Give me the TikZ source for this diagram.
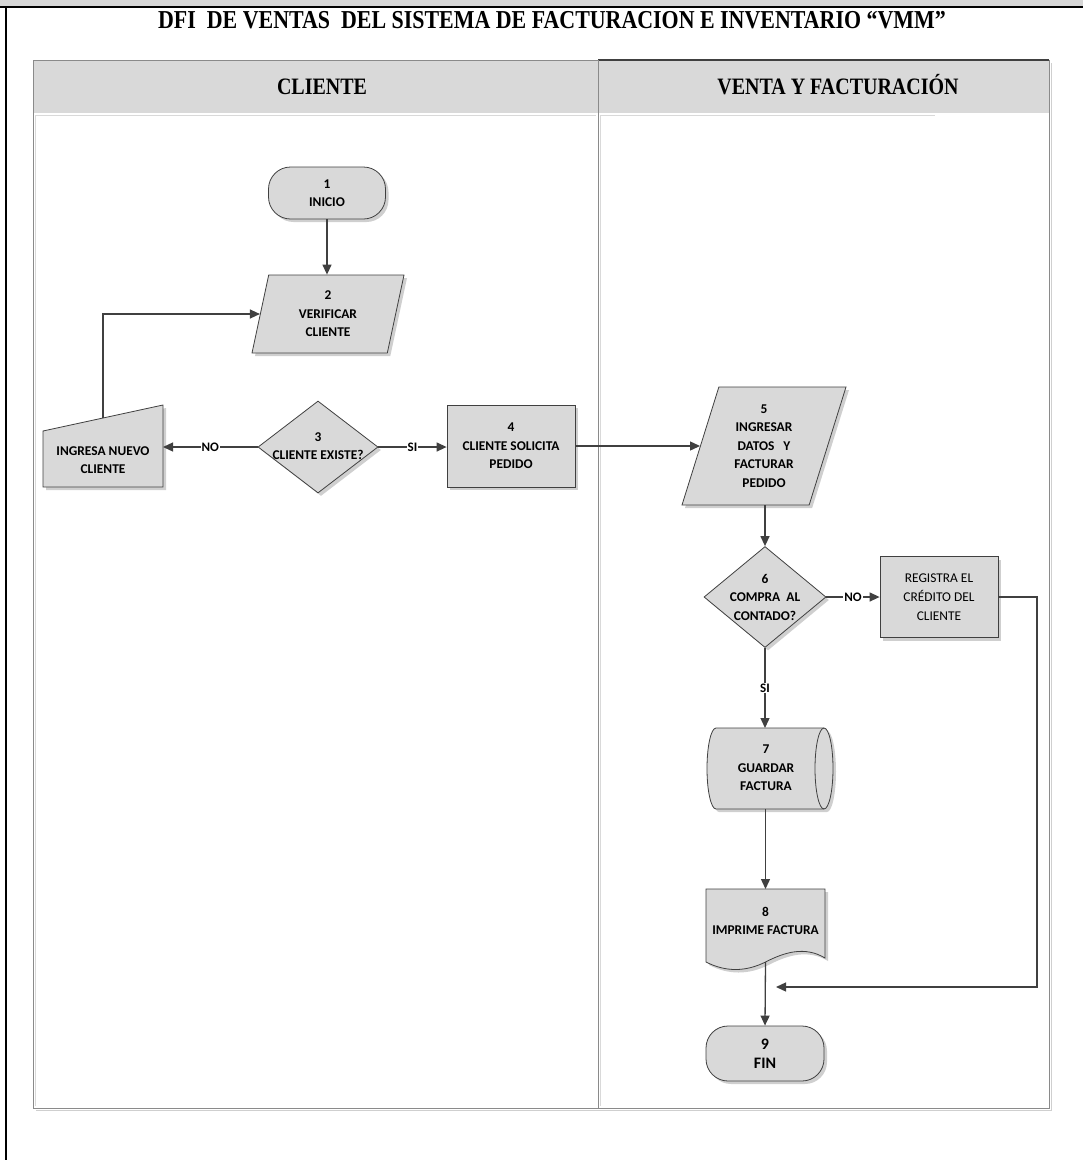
\documentclass[tikz,border=0pt]{standalone}
\usepackage{fontspec}
\setmainfont{Carlito}
\newfontfamily\headfont[FakeStretch=0.85]{Liberation Serif}
\usetikzlibrary{shapes.geometric,shapes.misc,arrows.meta,shadows,calc}

\definecolor{shapefill}{HTML}{D9D9D9}
\definecolor{edge}{HTML}{404040}
\definecolor{shadowgray}{HTML}{CFCFCF}
\definecolor{poolline}{HTML}{8A8A8A}
\definecolor{bandgray}{HTML}{D6D6D6}

\begin{document}
\begin{tikzpicture}[x=1pt,y=-1pt,
  font=\fontsize{13.4}{18.5}\selectfont\bfseries,
  shade3/.style={drop shadow={shadow xshift=3pt,shadow yshift=-3pt,fill=shadowgray,opacity=1}},
  base/.style={draw=edge,line width=0.8pt,fill=shapefill,align=center,inner sep=2pt,shade3},
  terminal/.style={base,rounded corners=22pt},
  process/.style={base,rectangle},
  decision/.style={base,diamond,inner sep=0pt},
  io/.style={base,trapezium,trapezium stretches body,inner sep=0pt},
  frame/.style={inner sep=0pt,outer sep=0pt},
  pathshadow/.style={preaction={fill=shadowgray,transform canvas={xshift=3pt,yshift=-3pt}}},
  outline/.style={pathshadow,fill=shapefill,draw=edge,line width=0.8pt},
  txt/.style={align=center,inner sep=0pt},
  flow/.style={draw=edge,line width=1.3pt,-{Triangle[length=10pt,width=9pt]}},
  tag/.style={fill=white,inner sep=1pt,font=\fontsize{13}{14}\selectfont\bfseries},
  lanehead/.style={font=\headfont\fontsize{23.5}{26}\selectfont\bfseries,anchor=base},
]
\useasboundingbox (0,0) rectangle (1083,1160);

% outer sheet frame
\fill[bandgray] (0,0) rectangle (1083,7);
\draw[black,line width=1.3pt] (0,7) -- (1083,7);
\draw[black,line width=1.3pt] (6,7) -- (6,1160);

% title
\node[font=\headfont\fontsize{25.8}{28}\selectfont\bfseries,anchor=base] (title) at (552,28)
  {DFI\ \ DE VENTAS\ \ DEL SISTEMA DE FACTURACION E INVENTARIO “VMM”};

% pool with two lanes
\draw[shadowgray,line width=1.5pt] (36,1110.5) -- (1051.5,1110.5) -- (1051.5,63);
\fill[shapefill] (33,60) rectangle (1049,113);
\draw[poolline,line width=1pt] (33,60) rectangle (1049,1108);
\draw[edge,line width=1.6pt] (598,60) -- (1049,60);
\draw[poolline,line width=0.9pt] (598,60) -- (598,1108);
\draw[gray!30,line width=0.8pt] (35.5,1106) -- (35.5,115.5) -- (596,115.5);
\draw[gray!30,line width=0.8pt] (600.5,1106) -- (600.5,115.5) -- (935,115.5);
\node[lanehead] (lane1) at (322,94) {CLIENTE};
\node[lanehead] (lane2) at (838,94) {VENTA Y FACTURACIÓN};

% lane: cliente
\node[terminal,minimum width=117pt,minimum height=52pt] (n1) at (327,193) {1\\INICIO};
\node[io,trapezium left angle=70,trapezium right angle=110,minimum width=152pt,minimum height=78pt]
  (n2) at (328,314) {2\\VERIFICAR\\CLIENTE};
\node[decision,minimum width=120pt,minimum height=92pt] (n3) at (318,447) {};
\node[txt] (n3-txt) at (318,446) {3\\CLIENTE EXISTE?};
\node[process,minimum width=128pt,minimum height=82pt] (n4) at (511,446) {4\\CLIENTE SOLICITA\\PEDIDO};

% manual input: ingresa nuevo cliente
\node[frame,minimum width=120pt,minimum height=82pt] (nuevo) at (103,446) {};
\path[outline]
  (nuevo.south west) -- (nuevo.south east) -- (nuevo.north east)
  -- ($(nuevo.north west)+(0,26)$) -- cycle;
\node[txt] (nuevo-txt) at (103,460) {INGRESA NUEVO\\CLIENTE};
\coordinate (nuevo-in) at ($(nuevo.north)+(0,13)$);

% lane: venta y facturacion
\node[io,trapezium left angle=66,trapezium right angle=114,minimum width=164pt,minimum height=118pt]
  (n5) at (764,446) {5\\INGRESAR\\DATOS\ \ \ Y\\FACTURAR\\PEDIDO};
\node[decision,minimum width=122pt,minimum height=101pt] (n6) at (765,597) {};
\node[txt] (n6-txt) at (765,597) {6\\COMPRA\ \ AL\\CONTADO?};
\node[process,minimum width=118pt,minimum height=81pt,font=\fontsize{13.4}{19}\selectfont\mdseries]
  (reg) at (939,597) {REGISTRA EL\\CRÉDITO DEL\\CLIENTE};

% stored data: guardar factura (horizontal cylinder)
\node[frame,minimum width=126pt,minimum height=81pt] (n7) at (770,768.5) {};
\path[outline]
  ($(n7.north west)+(9,0)$) -- ($(n7.north east)+(-9,0)$)
  arc[start angle=90,end angle=-90,x radius=9pt,y radius=40.5pt]
  -- ($(n7.south west)+(9,0)$)
  arc[start angle=270,end angle=90,x radius=9pt,y radius=40.5pt] -- cycle;
\draw[edge,line width=0.8pt] ($(n7.north east)+(-9,0)$)
  arc[start angle=90,end angle=270,x radius=9pt,y radius=40.5pt];
\node[txt] (n7-txt) at (766,768) {7\\GUARDAR\\FACTURA};

% document: imprime factura
\node[frame,minimum width=119pt,minimum height=73pt] (n8) at (765.5,925.5) {};
\path[outline]
  (n8.north west) -- (n8.north east) -- ($(n8.north east)+(0,69)$)
  .. controls ($(n8.north east)+(-20,57)$) and ($(n8.north east)+(-40,63)$) .. (n8.south)
  .. controls ($(n8.south)+(-20,10)$) and ($(n8.south)+(-40,10)$) .. (n8.south west) -- cycle;
\node[txt] (n8-txt) at (765.5,921) {8\\IMPRIME FACTURA};

\node[terminal,minimum width=118pt,minimum height=55pt,font=\fontsize{16}{19}\selectfont\bfseries]
  (n9) at (765,1053.5) {9\\FIN};
\coordinate (turn) at (1037,597);
\coordinate (merge) at (776,987);

% connectors
\draw[flow] (n1.south) -- (n1.south |- n2.top side);
\draw[flow] (nuevo-in) |- (n2.left side);
\draw[flow] (n3.west) -- (n3.west -| nuevo.east) node[tag,midway] (no1) {NO};
\draw[flow] (n3.east) -- (n3.east -| n4.west) node[tag,midway] (si1) {SI};
\draw[flow] (n4.east) -- (n5.left side);
\draw[flow] (n6.north |- n5.bottom side) -- (n6.north);
\draw[flow] (n6.east) -- (reg.west) node[tag,midway] (no2) {NO};
\draw[flow] (n6.south) -- (n6.south |- n7.north) node[tag,midway] (si2) {SI};
\draw[flow] (n8.north |- n7.south) -- (n8.north);
\draw[flow] (n8.south) -- (n9.north);
\draw[flow] (reg.east) -- (turn) |- (merge);
\end{tikzpicture}
\end{document}
